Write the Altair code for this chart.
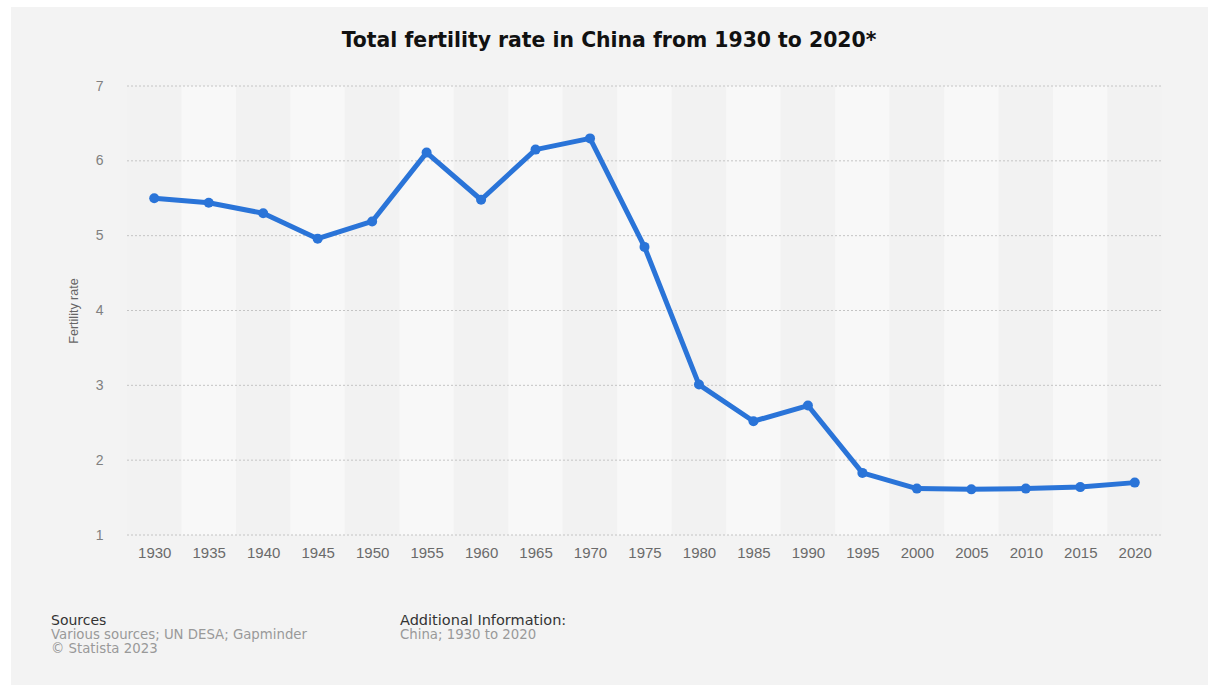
import altair as alt
import pandas as pd

# Total fertility rate in China, 1930-2020 (births per woman)
years = [1930, 1935, 1940, 1945, 1950, 1955, 1960, 1965, 1970, 1975,
         1980, 1985, 1990, 1995, 2000, 2005, 2010, 2015, 2020]
rates = [5.50, 5.44, 5.30, 4.96, 5.19, 6.11, 5.48, 6.15, 6.30, 4.85,
         3.01, 2.52, 2.73, 1.83, 1.62, 1.61, 1.62, 1.64, 1.70]
y_ticks = [1, 2, 3, 4, 5, 6, 7]

title_text = "Total fertility rate in China from 1930 to 2020*"
y_title = "Fertility rate"
source_head = "Sources"
source_lines = ["Various sources; UN DESA; Gapminder", "\u00a9 Statista 2023"]
info_head = "Additional Information:"
info_line = "China; 1930 to 2020"

FONT = "Liberation Sans"
WIDE = "DejaVu Sans"
BLUE = "#2a74d8"
BG = "#f3f3f3"

# plot area geometry (pixels)
W, H = 1035, 449
PAD_L, PAD_T = 127, 86

df = pd.DataFrame({"year": years, "rate": rates})
bands = pd.DataFrame({
    "lo": [y - 2.5 for y in years],
    "hi": [y + 2.5 for y in years],
    "shade": ["a" if i % 2 == 0 else "b" for i in range(len(years))],
})
grid = pd.DataFrame({"v": y_ticks})

x_scale = alt.Scale(domain=[1927.5, 2022.5], nice=False, zero=False)
y_scale = alt.Scale(domain=[1, 7], nice=False, zero=False)

one = alt.Data(values=[{}])

# grey card behind everything, leaving a thin white margin
card = alt.Chart(one).mark_rect(color=BG).encode(
    x=alt.value(11 - PAD_L), x2=alt.value(1208 - PAD_L),
    y=alt.value(7 - PAD_T), y2=alt.value(685 - PAD_T),
)

# alternating column shading behind each year
band_layer = alt.Chart(bands).mark_rect().encode(
    x=alt.X("lo:Q", scale=x_scale,
            axis=alt.Axis(values=years, format="d", title=None, grid=False,
                          ticks=False, domain=False, labelFont=FONT,
                          labelFontSize=15, labelColor="#6a6a6a",
                          labelPadding=10, zindex=1)),
    x2="hi:Q",
    y=alt.value(0), y2=alt.value(H),
    color=alt.Color("shade:N", scale=alt.Scale(domain=["a", "b"],
                                                range=["#f2f2f2", "#f8f8f8"]),
                    legend=None),
)

# dotted horizontal gridlines
grid_layer = alt.Chart(grid).mark_rule(
    color="#c4c4c4", strokeDash=[2, 2], strokeWidth=1
).encode(
    y=alt.Y("v:Q", scale=y_scale),
    x=alt.value(0), x2=alt.value(W),
)

base = alt.Chart(df).encode(
    x=alt.X("year:Q", scale=x_scale),
    y=alt.Y("rate:Q", scale=y_scale,
            axis=alt.Axis(values=y_ticks, format="d", title=y_title,
                          grid=False, ticks=False, domain=False,
                          labelFont=FONT, labelFontSize=14,
                          labelColor="#808080", labelPadding=24,
                          titleFont="Liberation Sans Narrow, Liberation Sans",
                          titleFontSize=12.5, titleFontWeight="normal",
                          titleColor="#666666", titlePadding=15, zindex=1)),
)

line = base.mark_line(color=BLUE, strokeWidth=5, strokeJoin="round")
points = base.mark_circle(color=BLUE, size=100, opacity=1)

title = alt.Chart(one).mark_text(
    font=WIDE, fontSize=20.4, fontWeight="bold", color="#111111",
    align="center", baseline="alphabetic",
).encode(x=alt.value(609 - PAD_L), y=alt.value(47 - PAD_T),
         text=alt.value(title_text))


def note(text, x, y, color, size=13.3):
    return alt.Chart(one).mark_text(
        font=WIDE, fontSize=size, color=color, align="left",
        baseline="alphabetic",
    ).encode(x=alt.value(x - PAD_L), y=alt.value(y - PAD_T),
             text=alt.value(text))


footer = [
    note(source_head, 51, 625, "#333333", 14),
    note(source_lines[0], 51, 639, "#999999"),
    note(source_lines[1], 51, 653, "#999999"),
    note(info_head, 400, 625, "#333333", 14.5),
    note(info_line, 400, 639, "#999999"),
]

chart = alt.layer(card, band_layer, grid_layer, line, points, title,
                  *footer).properties(
    width=W, height=H,
    background="white",
    padding={"left": PAD_L, "top": PAD_T, "right": 1217 - PAD_L - W,
             "bottom": 686 - PAD_T - H},
    autosize=alt.AutoSizeParams(type="none"),
).configure_view(stroke=None)

chart.save("out.html", embed_options={"renderer": "svg", "actions": False})
